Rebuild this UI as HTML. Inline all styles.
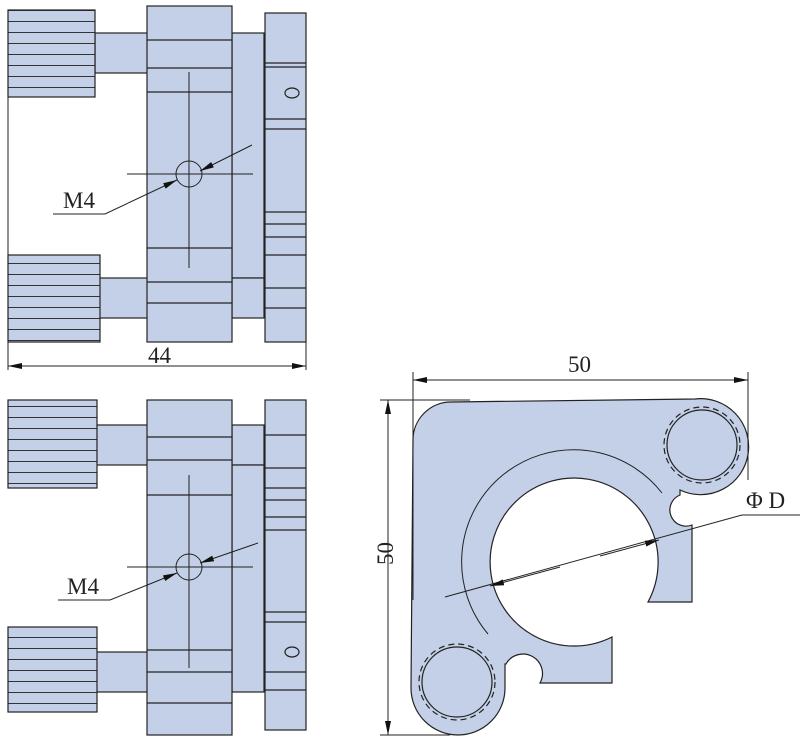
<!DOCTYPE html>
<html><head><meta charset="utf-8"><style>
html,body{margin:0;padding:0;background:#fff;}
svg{display:block;}
text{font-family:"Liberation Serif",serif;fill:#222;}
</style></head><body>
<svg width="801" height="744" viewBox="0 0 801 744" xmlns="http://www.w3.org/2000/svg">
<defs>
<marker id="ar" markerWidth="14" markerHeight="6" refX="14" refY="3" orient="auto" markerUnits="userSpaceOnUse">
<path d="M0,0 L14,3 L0,6 Z" fill="#111"/></marker>
<pattern id="kn" width="10" height="11" patternUnits="userSpaceOnUse">
<rect width="10" height="11" fill="#c3d0e8"/><line x1="0" y1="10.5" x2="10" y2="10.5" stroke="#333" stroke-width="1"/></pattern>
</defs>
<g stroke="#222" stroke-width="1.2" fill="#c3d0e8">
<!-- TOP VIEW -->
<rect x="95" y="33" width="53" height="40"/>
<rect x="95" y="278" width="53" height="40"/>
<rect x="8" y="10" width="87" height="87" fill="url(#kn)"/>
<rect x="8" y="255" width="92" height="87" fill="url(#kn)"/>
<rect x="232" y="33" width="32" height="245"/>
<rect x="232" y="278" width="32" height="40"/>
<rect x="147" y="6" width="85" height="336"/>
<path d="M147 40H232M147 68H232M147 92H232M147 248H232M147 282H232M147 303H232" fill="none"/>
<rect x="265" y="13" width="41" height="329"/>
<path d="M265 63H306M265 67H306M265 119H306M265 129H306M265 212H306M265 224H306M265 237H306M265 255H306M265 288H306M265 308H306" fill="none"/>
<ellipse cx="292" cy="93" rx="7" ry="5" fill="none"/>
<g fill="none" stroke-width="1">
<path d="M189 72V268M127 174H253"/>
<circle cx="189" cy="174" r="13"/>
<path d="M53 214H105L177 180" marker-end="url(#ar)"/>
<path d="M252 145L200 171" marker-end="url(#ar)"/>
<path d="M8 10V370M306 13V370"/>
<path d="M157 366H8" marker-end="url(#ar)"/>
<path d="M157 366H306" marker-end="url(#ar)"/>
</g>
<!-- BOTTOM VIEW -->
<rect x="95" y="425" width="53" height="40"/>
<rect x="95" y="652" width="53" height="40"/>
<rect x="8" y="400" width="89" height="88" fill="url(#kn)"/>
<rect x="8" y="627" width="89" height="85" fill="url(#kn)"/>
<rect x="232" y="425" width="32" height="40"/>
<rect x="232" y="465" width="32" height="227"/>
<rect x="147" y="400" width="85" height="335"/>
<path d="M147 437H232M147 460H232M147 495H232M147 650H232M147 672H232M147 703H232" fill="none"/>
<rect x="265" y="400" width="41" height="330"/>
<path d="M265 435H306M265 468H306M265 488H306M265 500H306M265 517H306M265 530H306M265 612H306M265 622H306M265 672H306M265 690H306" fill="none"/>
<ellipse cx="292" cy="652" rx="7" ry="5" fill="none"/>
<g fill="none" stroke-width="1">
<path d="M189 475V668M127 567H253"/>
<circle cx="189" cy="567" r="13"/>
<path d="M58 600H110L177 573" marker-end="url(#ar)"/>
<path d="M258 543L200 563" marker-end="url(#ar)"/>
</g>
<!-- RIGHT VIEW -->
<path d="M413 440A38 38 0 0 1 451 402L695 399A48 48 0 1 1 680 490L680 495A14 14 0 0 0 692 525L692 602L648 602A84 84 0 1 0 612 637L612 683L540 683A18 18 0 0 0 506 664L505 664L505 688A47 47 0 0 1 411 688Z"/>
<path d="M488 634A112 112 0 1 1 662 493" fill="none" stroke-width="1"/>
<circle cx="702" cy="445" r="38" stroke-dasharray="6 4"/>
<circle cx="702" cy="445" r="35" fill="none"/>
<circle cx="457" cy="682" r="38" stroke-dasharray="6 4"/>
<circle cx="457" cy="682" r="35" fill="none"/>
<g fill="none" stroke-width="1">
<path d="M413 372V600M748 372V480M380 400H470M380 735H450"/>
<path d="M580 380H413" marker-end="url(#ar)"/>
<path d="M580 380H748" marker-end="url(#ar)"/>
<path d="M388 565V400" marker-end="url(#ar)"/>
<path d="M388 565V735" marker-end="url(#ar)"/>
<path d="M800 515H742L445 597"/>
<path d="M560 567L490 586" marker-end="url(#ar)"/>
<path d="M600 556L659 540" marker-end="url(#ar)"/>
</g>
</g>
<text x="63" y="208" font-size="23">M4</text>
<text x="67" y="594" font-size="23">M4</text>
<text x="148" y="363" font-size="23">44</text>
<text x="568" y="372" font-size="23">50</text>
<text x="380" y="578" font-size="23" transform="rotate(-90 380 565)">50</text>
<text x="746" y="508" font-size="23">Φ D</text>
</svg>
</body></html>
